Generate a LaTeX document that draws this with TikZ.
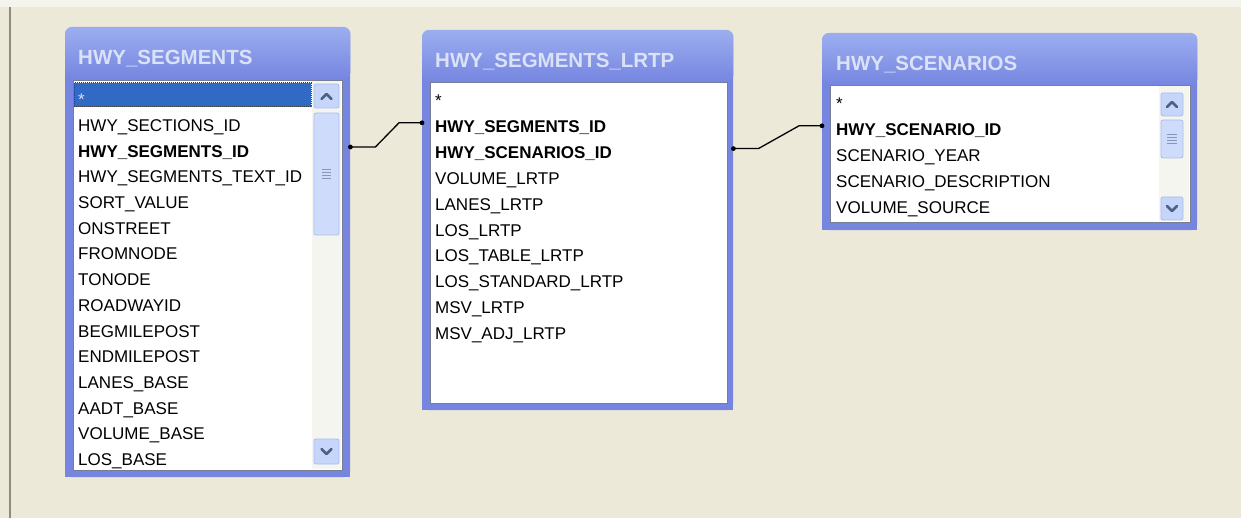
\documentclass[tikz,border=0pt]{standalone}
\usepackage{fontspec}
\setmainfont{Liberation Sans}
\usetikzlibrary{positioning}
\definecolor{desk}{RGB}{236,233,216}
\definecolor{deskedge}{RGB}{244,243,236}
\definecolor{ruleline}{RGB}{140,140,128}
\definecolor{framebase}{RGB}{118,133,224}
\definecolor{titletop}{RGB}{156,174,240}
\definecolor{titletext}{RGB}{218,226,248}
\definecolor{listedge}{RGB}{118,126,150}
\definecolor{selblue}{RGB}{49,106,197}
\definecolor{barbtn}{RGB}{198,213,250}
\definecolor{barbtnedge}{RGB}{168,188,240}
\definecolor{bartrack}{RGB}{245,245,240}
\definecolor{chev}{RGB}{77,97,133}
\tikzset{
  tableframe/.style={fill=framebase, rounded corners=7pt, inner sep=0pt, anchor=north west},
  listbox/.style={fill=white, draw=listedge, line width=0.8pt, inner sep=0pt, anchor=north west},
  tabletitle/.style={anchor=base west, inner sep=0pt, text=titletext,
    font=\fontsize{20.5}{24}\selectfont\bfseries},
  field/.style={anchor=base west, inner sep=0pt, text height=10pt, text depth=4pt,
    font=\fontsize{17}{20}\selectfont},
  keyfield/.style={field, font=\fontsize{17}{20}\selectfont\bfseries},
  focusrow/.style={fill=selblue, draw=black!75, densely dotted, line width=1pt},
  bartrackbox/.style={fill=bartrack},
  barbutton/.style={fill=barbtn, draw=barbtnedge, line width=0.8pt, rounded corners=2pt},
  barthumb/.style={fill=barbtn!85!white, draw=barbtnedge, line width=0.8pt, rounded corners=2pt},
  chevron/.style={draw=chev, line width=2.6pt, line cap=round, line join=round},
  grip/.style={draw=barbtnedge!80!black, line width=0.8pt},
  link/.style={draw=black, line width=1.3pt},
  linkdot/.style={fill=black}
}
\begin{document}
\begin{tikzpicture}[x=1pt, y=-1pt]
\useasboundingbox (0,0) rectangle (1241,518);
% desktop
\fill[desk] (0,0) rectangle (1241,518);
\fill[deskedge] (0,0) rectangle (1241,7);
\draw[ruleline, line width=1.5pt] (10,7) -- (10,518);

% HWY_SEGMENTS
\node[tableframe, minimum width=285pt, minimum height=450pt] (seg) at (65,27) {};
\shade[top color=titletop, bottom color=framebase, rounded corners=7pt]
  (seg.north west) rectangle ([yshift=-52pt]seg.north east);
\fill[framebase] ([yshift=10pt]seg.south west) rectangle (seg.south east);
\node[tabletitle] (seg-title) at (78,65) {HWY\_SEGMENTS};
\node[listbox, minimum width=269pt, minimum height=390pt] (seg-list) at (73,80) {};
\draw[focusrow] (74,83) rectangle (311,107);
\node[field, text=white!80!selblue] (seg-0) at (78,105.8) {*};
\foreach \i/\name in {1/HWY\_SECTIONS\_ID, 3/HWY\_SEGMENTS\_TEXT\_ID, 4/SORT\_VALUE,
  5/ONSTREET, 6/FROMNODE, 7/TONODE, 8/ROADWAYID, 9/BEGMILEPOST, 10/ENDMILEPOST,
  11/LANES\_BASE, 12/AADT\_BASE, 13/VOLUME\_BASE, 14/LOS\_BASE}
{
  \node[field] (seg-\i) at (78,{105.8+25.7*\i}) {\name};
}
\node[keyfield] (seg-2) at (78,157.2) {HWY\_SEGMENTS\_ID};
% scroll bar
\fill[bartrackbox] (312,81) rectangle (341,469);
\draw[barbutton] (314,84) rectangle (339,108);
\draw[chevron] (321.5,99) -- (326.5,94) -- (331.5,99);
\draw[barthumb] (314,113) rectangle (339,235);
\foreach \g in {0,...,3}
  \draw[grip] (322,{169+3*\g}) -- (331,{169+3*\g});
\draw[barbutton] (314,439) rectangle (339,464);
\draw[chevron] (321.5,449) -- (326.5,454) -- (331.5,449);

% HWY_SEGMENTS_LRTP
\node[tableframe, minimum width=311pt, minimum height=380pt] (lrtp) at (422,30) {};
\shade[top color=titletop, bottom color=framebase, rounded corners=7pt]
  (lrtp.north west) rectangle ([yshift=-52pt]lrtp.north east);
\fill[framebase] ([yshift=10pt]lrtp.south west) rectangle (lrtp.south east);
\node[tabletitle] (lrtp-title) at (435,68) {HWY\_SEGMENTS\_LRTP};
\node[listbox, minimum width=297pt, minimum height=321pt] (lrtp-list) at (430,82) {};
\node[field] (lrtp-0) at (435,107) {*};
\foreach \i/\name in {3/VOLUME\_LRTP, 4/LANES\_LRTP, 5/LOS\_LRTP, 6/LOS\_TABLE\_LRTP,
  7/LOS\_STANDARD\_LRTP, 8/MSV\_LRTP, 9/MSV\_ADJ\_LRTP}
{
  \node[field] (lrtp-\i) at (435,{107.2+25.8*\i}) {\name};
}
\node[keyfield] (lrtp-1) at (435,133) {HWY\_SEGMENTS\_ID};
\node[keyfield] (lrtp-2) at (435,158.8) {HWY\_SCENARIOS\_ID};

% HWY_SCENARIOS
\node[tableframe, minimum width=375pt, minimum height=197pt] (scen) at (822,33) {};
\shade[top color=titletop, bottom color=framebase, rounded corners=7pt]
  (scen.north west) rectangle ([yshift=-52pt]scen.north east);
\fill[framebase] ([yshift=10pt]scen.south west) rectangle (scen.south east);
\node[tabletitle] (scen-title) at (836,71) {HWY\_SCENARIOS};
\node[listbox, minimum width=360pt, minimum height=137pt] (scen-list) at (830,85) {};
\node[field] (scen-0) at (836,110) {*};
\foreach \i/\name in {2/SCENARIO\_YEAR, 3/SCENARIO\_DESCRIPTION, 4/VOLUME\_SOURCE}
{
  \node[field] (scen-\i) at (836,{110.2+25.8*\i}) {\name};
}
\node[keyfield] (scen-1) at (836,136) {HWY\_SCENARIO\_ID};
% scroll bar
\fill[bartrackbox] (1159,86) rectangle (1189,221);
\draw[barbutton] (1161,93) rectangle (1183,116);
\draw[chevron] (1167,107) -- (1172,102) -- (1177,107);
\draw[barthumb] (1161,120) rectangle (1183,158);
\foreach \g in {0,...,3}
  \draw[grip] (1167,{134+3*\g}) -- (1177,{134+3*\g});
\draw[barbutton] (1161,197) rectangle (1183,220);
\draw[chevron] (1167,206) -- (1172,211) -- (1177,206);

% relationships
\coordinate (seg-out) at (seg.east |- seg-2.north);
\coordinate (lrtp-in) at (lrtp.west |- lrtp-1.north);
\coordinate (lrtp-out) at (lrtp.east |- lrtp-2.north);
\coordinate (scen-in) at (scen.west |- scen-1.north);
\draw[link] (seg-out) -- ++(25,0) -- ([xshift=-23pt]lrtp-in) -- (lrtp-in);
\draw[link] (lrtp-out) -- ++(25,0) -- ([xshift=-23pt]scen-in) -- (scen-in);
\foreach \c in {seg-out, lrtp-in, lrtp-out, scen-in}
  \fill[linkdot] (\c) circle (2.4pt);
\end{tikzpicture}
\end{document}
